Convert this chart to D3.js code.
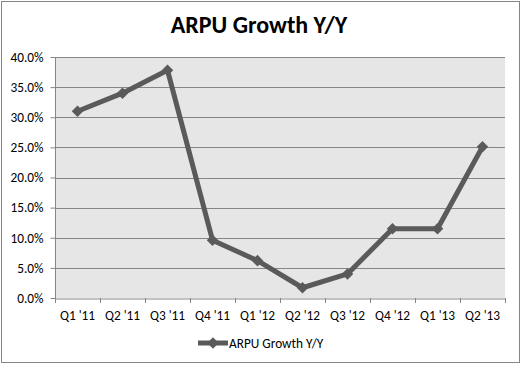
<!DOCTYPE html>
<html>
<head>
<meta charset="utf-8">
<script src="https://cdn.jsdelivr.net/npm/d3@7"></script>
<style>
body { margin: 0; background: #fff; }
text { font-family: Carlito, "Liberation Sans", "DejaVu Sans", sans-serif; }
</style>
</head>
<body>
<div id="chart"></div>
<script>
const quarters = ["Q1 '11", "Q2 '11", "Q3 '11", "Q4 '11", "Q1 '12", "Q2 '12", "Q3 '12", "Q4 '12", "Q1 '13", "Q2 '13"];
const arpu_growth = [0.310, 0.340, 0.378, 0.096, 0.062, 0.017, 0.040, 0.115, 0.115, 0.251];
const y_ticks = [0, 0.05, 0.10, 0.15, 0.20, 0.25, 0.30, 0.35, 0.40];
const series_name = "ARPU Growth Y/Y";
const chart_title = "ARPU Growth Y/Y";

const c_width = 521;
const c_height = 365;
const padding = {left: 55, right: 16, top: 57, bottom: 67};
const line_color = "#5a5a5a";
const font_size = 13.3;

var svg = d3.select('#chart')
            .append('svg')
            .attr('width', c_width)
            .attr('height', c_height);

// outer frame
svg.append('rect')
    .attr('x', 1.5).attr('y', 1.5)
    .attr('width', c_width - 3).attr('height', c_height - 4)
    .attr('fill', '#fff')
    .attr('stroke', '#868686');

svg.append('text')
    .attr('x', 259).attr('y', 33)
    .attr('text-anchor', 'middle')
    .attr('font-size', 24)
    .attr('font-weight', 'bold')
    .text(chart_title);

var xScale = d3.scaleBand()
        .domain(quarters)
        .range([padding.left, c_width - padding.right]);
var yScale = d3.scaleLinear()
        .domain([0, 0.40])
        .range([c_height - padding.bottom, padding.top]);

// plot area
svg.append('rect')
    .attr('x', padding.left).attr('y', padding.top)
    .attr('width', c_width - padding.left - padding.right)
    .attr('height', c_height - padding.bottom - padding.top)
    .attr('fill', '#e6e6e6');

// grid lines
svg.append('g')
    .selectAll('line')
    .data(y_ticks.slice(1))
    .enter()
    .append('line')
    .attr('x1', padding.left).attr('x2', c_width - padding.right)
    .attr('y1', d => Math.round(yScale(d)) + 0.5)
    .attr('y2', d => Math.round(yScale(d)) + 0.5)
    .attr('stroke', '#868686');

var yAxis = svg.append('g')
    .attr('transform', 'translate(' + (padding.left + 0.5) + ',0)')
    .call(d3.axisLeft(yScale).tickValues(y_ticks).tickFormat(d3.format('.1%')).tickSize(5).tickPadding(7));
var xAxis = svg.append('g')
    .attr('transform', 'translate(0,' + (c_height - padding.bottom + 0.5) + ')')
    .call(d3.axisBottom(xScale).tickSize(0).tickPadding(12));

// ticks on the band edges like the original
svg.append('g')
    .selectAll('line')
    .data(d3.range(quarters.length + 1))
    .enter()
    .append('line')
    .attr('x1', i => Math.round(padding.left + i * xScale.step()) + 0.5)
    .attr('x2', i => Math.round(padding.left + i * xScale.step()) + 0.5)
    .attr('y1', c_height - padding.bottom)
    .attr('y2', c_height - padding.bottom + 5)
    .attr('stroke', '#868686');

[yAxis, xAxis].forEach(function(ax){
    ax.selectAll('path, line').attr('stroke', '#868686');
    ax.selectAll('text').attr('font-size', font_size).attr('fill', '#000')
        .style('font-family', 'Carlito, "Liberation Sans", sans-serif');
});
yAxis.select('.domain').attr('d', 'M0,' + padding.top + 'V' + (c_height - padding.bottom));

var line = d3.line()
    .x((d, i) => xScale(quarters[i]) + xScale.bandwidth() / 2)
    .y(d => yScale(d));

svg.append('path')
    .datum(arpu_growth)
    .attr('d', line)
    .attr('fill', 'none')
    .attr('stroke', line_color)
    .attr('stroke-width', 5)
    .attr('stroke-linejoin', 'round');

var diamond = d3.symbol().type(d3.symbolDiamond2).size(85);
svg.append('g')
    .selectAll('path')
    .data(arpu_growth)
    .enter()
    .append('path')
    .attr('d', diamond)
    .attr('transform', (d, i) => 'translate(' + (xScale(quarters[i]) + xScale.bandwidth() / 2) + ',' + yScale(d) + ')')
    .attr('fill', line_color);

// legend
var legend = svg.append('g').attr('transform', 'translate(198,343)');
legend.append('line')
    .attr('x1', 0).attr('x2', 30).attr('y1', 0).attr('y2', 0)
    .attr('stroke', line_color).attr('stroke-width', 5);
legend.append('path')
    .attr('d', diamond)
    .attr('transform', 'translate(15,0)')
    .attr('fill', line_color);
legend.append('text')
    .attr('x', 31).attr('y', 4.5)
    .attr('font-size', font_size)
    .text(series_name);
</script>
</body>
</html>
